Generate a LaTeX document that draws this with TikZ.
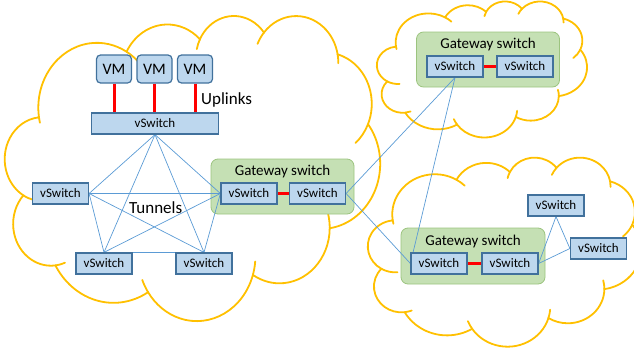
\documentclass[tikz,border=0pt]{standalone}
\usepackage{fontspec}
\setmainfont{Carlito}
\definecolor{swfill}{HTML}{BDD7EE}
\definecolor{swborder}{HTML}{41719C}
\definecolor{gwfill}{HTML}{C5E0B4}
\definecolor{gwborder}{HTML}{9CC47F}
\definecolor{cloudgold}{HTML}{FFC000}
\definecolor{tunnelblue}{HTML}{5B9BD5}
\pgfdeclarelayer{bg}
\pgfdeclarelayer{ln}
\pgfsetlayers{bg,ln,main}
\newcommand\carc[4]{arc[start angle={cpa(#1,#2,#3)}, delta angle={cpd(#1,#2,#3,#4)}, x radius=#1, y radius=#2]}
\newcommand\carcb[4]{arc[start angle={cpa(#1,#2,#3)}, delta angle={-cpd(#1,#2,#3-#4,#4)}, x radius=#1, y radius=#2]}
\newcommand\pptcloud[4]{%
\begin{scope}[shift={(#1,#2)}, x=#3pt, y=-#4pt]
 \draw[cloudline] (39.00,143.70) \carc{67.53}{91.90}{-190.49}{123.78} coordinate (j1)
   \carc{53.33}{72.67}{-144.10}{89.95} coordinate (j2)
   \carc{43.65}{59.45}{-145.81}{99.72} coordinate (j3)
   \carc{48.57}{65.95}{-130.99}{117.24} coordinate (j4)
   \carc{53.33}{72.73}{-78.71}{109.03} coordinate (j5)
   \carc{67.75}{92.20}{-46.27}{130.27} coordinate (j6)
   \carc{57.85}{78.67}{0.625}{114.03} coordinate (j7)
   \carc{67.52}{92.15}{22.45}{115.17} coordinate (j8)
   \carc{77.20}{105.43}{66.24}{75.71} coordinate (j9)
   \carc{43.60}{59.18}{-274.94}{146.74} coordinate (j10)
   \carc{43.45}{59.45}{-246.83}{152.52} -- cycle;
 \draw[cloudline] (j1) \carc{67.53}{91.90}{-66.71}{12.32};
 \draw[cloudline] (j2) \carcb{43.65}{59.45}{-145.81}{17.69};
 \draw[cloudline] (j3) \carcb{48.57}{65.95}{-130.99}{18.20};
 \draw[cloudline] (j4) \carc{48.57}{65.95}{-13.75}{14.86};
 \draw[cloudline] (j5) \carc{53.33}{72.73}{30.32}{27.75};
 \draw[cloudline] (j6) \carcb{57.85}{78.67}{0.625}{19.8};
 \draw[cloudline] (j7) \carcb{67.52}{92.15}{22.45}{16.0};
 \draw[cloudline] (j8) \carc{67.52}{92.15}{137.62}{14.08};
 \draw[cloudline] (j9) \carcb{43.60}{59.18}{-274.94}{11.45};
 \draw[cloudline] (j10) \carcb{43.45}{59.45}{-246.83}{26.43};
 \draw[cloudline] (39.00,143.70) \carcb{67.53}{91.90}{-190.49}{7.5};
\end{scope}}
\tikzset{
 cloudline/.style={draw=cloudgold, line width=1.8pt, line cap=round},
 vsw/.style={draw=swborder, fill=swfill, line width=1.2pt, minimum width=56pt, minimum height=21pt, inner sep=0pt, font=\fontsize{13}{13}\selectfont},
 vm/.style={vsw, rounded corners=4pt, minimum width=35pt, minimum height=28pt, font=\fontsize{16}{16}\selectfont},
 gw/.style={draw=gwborder, fill=gwfill, rounded corners=7pt, line width=0.8pt, minimum width=143pt, minimum height=55pt, inner sep=0pt},
 tunnel/.style={draw=tunnelblue, line width=0.7pt},
 uplink/.style={draw=red, line width=3pt},
 lbl/.style={font=\fontsize{17}{17}\selectfont, inner sep=0pt},
 gwlbl/.style={font=\fontsize{15}{15}\selectfont, inner sep=0pt},
}
\begin{document}
\begin{tikzpicture}[x=1pt,y=-1pt,
  declare function={cpa(\cwa,\cha,\cst)=atan2(\cwa*sin(\cst),\cha*cos(\cst));
    cpd(\cwa,\cha,\cst,\csw)=mod(cpa(\cwa,\cha,\cst+\csw)-cpa(\cwa,\cha,\cst)+720,360);}]
\useasboundingbox (0,0) rectangle (634,351);
\clip (0,0) rectangle (634,351);
% clouds
\begin{pgfonlayer}{bg}
\pptcloud{5}{15}{0.8681}{0.7060}
\pptcloud{377}{1}{0.4861}{0.3148}
\pptcloud{368}{157}{0.6319}{0.4375}
\node[gw] (gw1) at (282.5,186.5) {};
\node[gw] (gw2) at (488,59.5) {};
\node[gw, minimum width=144pt, minimum height=56pt] (gw3) at (473,256) {};
\end{pgfonlayer}
% nodes
\node[vm] (vm1) at (114,69) {VM};
\node[vm] (vm2) at (154.5,69) {VM};
\node[vm] (vm3) at (195,69) {VM};
\node[vsw, minimum width=127pt] (top) at (155,123.5) {vSwitch};
\node[vsw] (lft) at (60.5,193.5) {vSwitch};
\node[vsw] (bl) at (104,263.5) {vSwitch};
\node[vsw] (br) at (204,263.5) {vSwitch};
\node[vsw] (g1a) at (249,193.5) {vSwitch};
\node[vsw] (g1b) at (317.5,193.5) {vSwitch};
\node[vsw] (g2a) at (455,66.5) {vSwitch};
\node[vsw] (g2b) at (525,66.5) {vSwitch};
\node[vsw] (g3a) at (439,263.5) {vSwitch};
\node[vsw] (g3b) at (510,263.5) {vSwitch};
\node[vsw] (r1) at (556,205.5) {vSwitch};
\node[vsw] (r2) at (598.5,248.5) {vSwitch};
\node[gwlbl, anchor=base] (gw1t) at (282.5,175.5) {Gateway switch};
\node[gwlbl, anchor=base] (gw2t) at (488,48.5) {Gateway switch};
\node[gwlbl, anchor=base] (gw3t) at (473,245) {Gateway switch};
\node[lbl, anchor=base west] (upl) at (201,104) {Uplinks};
\node[lbl, anchor=base west] (tun) at (129,213) {Tunnels};
% connectors
\begin{pgfonlayer}{ln}
\foreach \v in {vm1,vm2,vm3} \draw[uplink] (\v.south) -- (\v.south |- top.north);
\draw[uplink] (g1a) -- (g1b);
\draw[uplink] (g2a) -- (g2b);
\draw[uplink] (g3a) -- (g3b);
\draw[tunnel] (top.south) -- (lft.east);
\draw[tunnel] (top.south) -- (g1a.west);
\draw[tunnel] (top.south) -- (bl.north);
\draw[tunnel] (top.south) -- (br.north);
\draw[tunnel] (lft.east) -- (g1a.west);
\draw[tunnel] (lft.east) -- (bl.north);
\draw[tunnel] (lft.east) -- (br.north);
\draw[tunnel] (bl.north) -- (g1a.west);
\draw[tunnel] (br.north) -- (g1a.west);
\draw[tunnel] (bl.north) -- (br.north);
\draw[tunnel] (g1b.east) -- (g2a.south);
\draw[tunnel] (g1b.east) -- (g3a.west);
\draw[tunnel] (g2a.south) -- (g3a.west);
\draw[tunnel] (g3b.east) -- (r1.south);
\draw[tunnel] (r1.south) -- (r2.west);
\draw[tunnel] (g3b.east) -- (r2.west);
\end{pgfonlayer}
\end{tikzpicture}
\end{document}
